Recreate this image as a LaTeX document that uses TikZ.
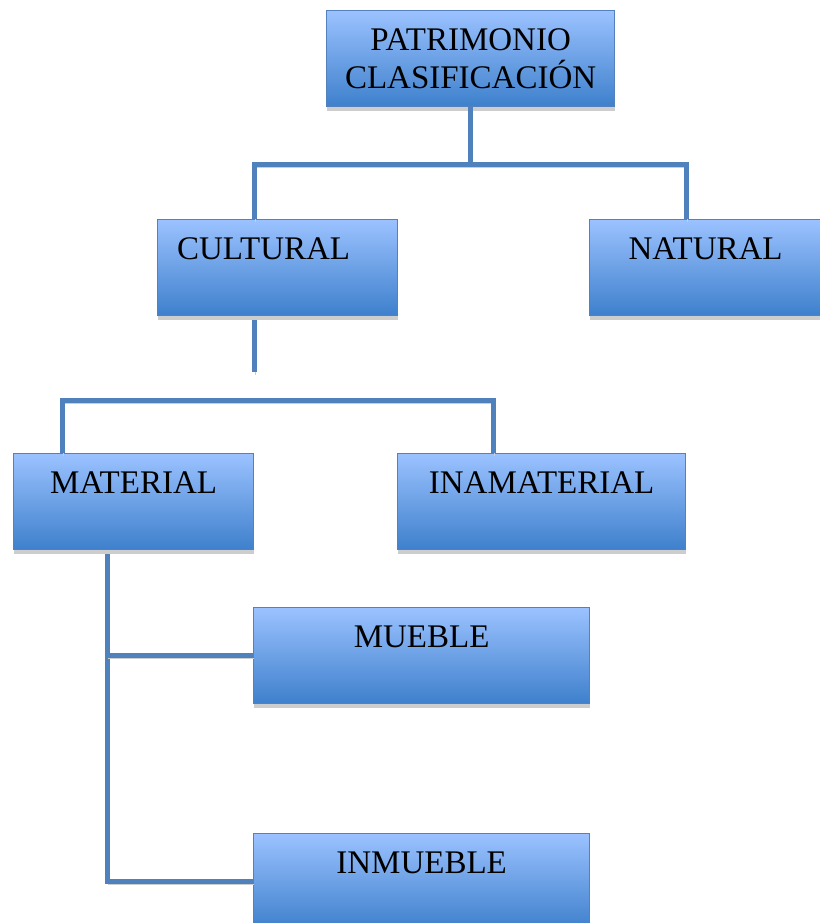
\documentclass[tikz,border=0pt]{standalone}
\usepackage{fontspec}
\setmainfont{Liberation Serif}
\usetikzlibrary{shadows}

\definecolor{boxtop}{RGB}{155,194,255}
\definecolor{boxmid}{RGB}{128,170,236}
\definecolor{boxbot}{RGB}{62,128,204}
\definecolor{boxline}{RGB}{84,128,190}
\definecolor{connblue}{RGB}{79,129,189}
\definecolor{shadegray}{RGB}{205,205,205}

\begin{document}
\begin{tikzpicture}[x=1pt, y=-1pt, line join=miter]
            \tikzset{box/.style = {draw=boxline, line width=1.2pt, anchor=north west,
                         top color=boxtop, middle color=boxmid, bottom color=boxbot,
                         inner xsep=0pt, inner ysep=0pt, text height=40pt, text depth=56pt,
                         font=\fontsize{33}{38}\selectfont,
                         drop shadow={shadow xshift=0pt, shadow yshift=-4pt, fill=shadegray, opacity=1}}}
            \tikzset{conn/.style = {draw=connblue, line width=5pt,
                         preaction={draw=shadegray, transform canvas={shift={(0.5pt,-3pt)}}}}}

            \useasboundingbox (0,0) rectangle (819,923);

            \node[box, minimum width=288pt, align=center, text height=78pt, text depth=18pt] (patr) at (326,10) {PATRIMONIO\\CLASIFICACIÓN};
            \node[box, minimum width=240pt] (cult) at (157,219) {CULTURAL\hspace*{28pt}};
            \node[box, minimum width=232pt] (nat) at (589,219) {NATURAL};
            \node[box, minimum width=240pt] (mat) at (13,453) {MATERIAL};
            \node[box, minimum width=288pt] (inmat) at (397,453) {INAMATERIAL};
            \node[box, minimum width=336pt] (mueb) at (253,607) {MUEBLE};
            \node[box, minimum width=336pt] (inmu) at (253,833) {INMUEBLE};

            \draw[conn] (patr.south) -- ++(0,57) coordinate (top);
            \draw[conn] ([xshift=-23pt]cult.north) |- (top) -| ([xshift=-19pt]nat.north);

            \draw[conn] ([xshift=-23pt, yshift=-4pt]cult.south) -- ++(0,52) coordinate (cend);
            \draw[conn] ([xshift=-71pt]mat.north) -- ++(0,-53) -| ([xshift=-48pt]inmat.north);

            \coordinate (mbot) at ([xshift=-26pt, yshift=-4pt]mat.south);
            \draw[conn] (mbot) |- (inmu.west);
            \draw[conn] (mueb.west) -- (mueb.west -| mbot);
\end{tikzpicture}
\end{document}
